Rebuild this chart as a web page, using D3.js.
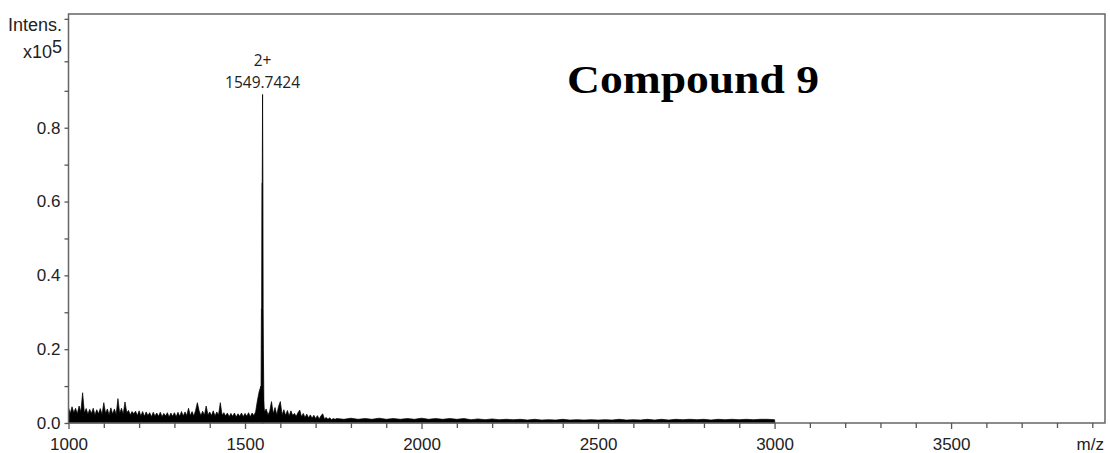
<!DOCTYPE html>
<html>
<head>
<meta charset="utf-8">
<script src="https://cdn.jsdelivr.net/npm/d3@7"></script>
<style>
	body { margin: 0; background: #fff; }
</style>
</head>
<body>
<div id="chart-area"></div>
<script>

// noise level, every 5 m/z from 1000 to 1755
var noiseStart = 1000, noiseStep = 5;
var noiseVals = [
	0.042,0.026,0.044,0.028,0.040,0.025,0.046,0.030,0.082,0.027,
	0.039,0.024,0.037,0.026,0.040,0.022,0.036,0.025,0.039,0.023,
	0.055,0.026,0.038,0.022,0.041,0.024,0.038,0.023,0.066,0.026,
	0.040,0.024,0.057,0.028,0.034,0.022,0.031,0.025,0.032,0.020,
	0.033,0.019,0.031,0.018,0.030,0.020,0.028,0.017,0.029,0.019,
	0.027,0.018,0.029,0.017,0.026,0.019,0.028,0.016,0.027,0.018,
	0.028,0.017,0.029,0.018,0.031,0.019,0.030,0.020,0.040,0.020,
	0.031,0.019,0.034,0.055,0.033,0.020,0.032,0.021,0.046,0.022,
	0.030,0.020,0.033,0.019,0.030,0.022,0.055,0.021,0.028,0.019,
	0.027,0.017,0.026,0.018,0.027,0.016,0.025,0.018,0.027,0.017,
	0.026,0.018,0.028,0.017,0.027,0.020,0.030,0.060,0.085,0.100,
	0.090,0.030,0.038,0.022,0.032,0.058,0.025,0.042,0.022,0.045,
	0.058,0.022,0.036,0.020,0.034,0.019,0.033,0.021,0.026,0.018,
	0.028,0.035,0.017,0.026,0.015,0.024,0.014,0.022,0.013,0.021,
	0.012,0.020,0.011,0.019,0.025,0.011,0.015,0.010,0.014,0.009,
	0.012,0.010
];

// low tail, every 20 m/z from 1760 to 3000
var tailStart = 1760, tailStep = 20;
var tailVals = [
	0.012,0.010,0.013,0.010,0.012,0.010,0.013,0.010,0.012,0.010,
	0.012,0.010,0.013,0.010,0.012,0.010,0.012,0.010,0.012,0.009,
	0.011,0.009,0.011,0.009,0.010,0.009,0.010,0.008,0.010,0.008,
	0.009,0.008,0.010,0.008,0.009,0.008,0.009,0.008,0.009,0.008,
	0.010,0.008,0.009,0.008,0.010,0.008,0.010,0.008,0.010,0.009,
	0.010,0.009,0.010,0.008,0.010,0.009,0.010,0.009,0.010,0.009,
	0.010,0.010,0.009
];

// main 2+ isotope cluster
var peakMz  = [1545.5, 1546.5, 1547.2, 1548.0, 1548.8, 1549.74, 1550.6, 1551.3, 1552.0, 1553.0];
var peakInt = [0.10, 0.31, 0.31, 0.65, 0.65, 0.89, 0.65, 0.31, 0.20, 0.10];

var xMajor = [1000, 1500, 2000, 2500, 3000, 3500];
var xMinor = [1100, 1200, 1300, 1400, 1600, 1700, 1800, 1900, 2100, 2200, 2300, 2400,
	2600, 2700, 2800, 2900, 3100, 3200, 3300, 3400, 3600, 3700, 3800, 3900];
var yMajor = [0.0, 0.2, 0.4, 0.6, 0.8];
var yMinor = [0.1, 0.3, 0.5, 0.7, 0.9];

var W = 1110, H = 453;
var margin = {top: 14, right: 5, bottom: 30, left: 68};
var sans = "Liberation Sans, Arial, sans-serif";

var svg = d3.select("#chart-area").append("svg")
	.attr("width", W)
	.attr("height", H);

var x = d3.scaleLinear().domain([1000, 3936]).range([68.5, W - margin.right]);
var y = d3.scaleLinear().domain([0, 1.1]).range([423, 17]);

// build the spectrum points
var spec = [];
noiseVals.forEach(function(v, i) { spec.push([noiseStart + i * noiseStep, v]); });
tailVals.forEach(function(v, i) { spec.push([tailStart + i * tailStep, v]); });
spec.push([3001, 0]);

var area = d3.area()
	.x(d => x(d[0]))
	.y0(y(0))
	.y1(d => y(d[1]));

svg.append("path")
	.datum(spec)
	.attr("d", area)
	.attr("fill", "#000")
	.attr("stroke", "#000")
	.attr("stroke-width", 0.7);

var peak = peakMz.map((m, i) => [m, peakInt[i]]);
peak.unshift([1545, 0]);
peak.push([1553.5, 0]);

svg.append("path")
	.datum(peak)
	.attr("d", area)
	.attr("fill", "#000")
	.attr("stroke", "#000")
	.attr("stroke-width", 0.8);

// frame
svg.append("path")
	.attr("d", "M" + x(1000) + "," + y(0) + "V" + margin.top + "H" + (W - margin.right) + "V" + y(0) + "Z")
	.attr("fill", "none")
	.attr("stroke", "#666")
	.attr("stroke-width", 1.5);

// x axis
var xAxis = d3.axisBottom(x).tickValues(xMajor).tickSize(6).tickPadding(9).tickFormat(d3.format("d"));
var xg = svg.append("g").attr("transform", "translate(0," + y(0) + ")").call(xAxis);
var xm = svg.append("g").attr("transform", "translate(0," + y(0) + ")")
	.call(d3.axisBottom(x).tickValues(xMinor).tickSize(5).tickFormat(""));

// y axis
var yAxis = d3.axisLeft(y).tickValues(yMajor).tickSize(4).tickPadding(4).tickFormat(d3.format(".1f"));
var yg = svg.append("g").attr("transform", "translate(" + x(1000) + ",0)").call(yAxis);
var ym = svg.append("g").attr("transform", "translate(" + x(1000) + ",0)")
	.call(d3.axisLeft(y).tickValues(yMinor.concat([0.98, 1.095])).tickSize(4).tickFormat(""));

[xg, xm, yg, ym].forEach(function(g) {
	g.select(".domain").remove();
	g.selectAll("line").attr("stroke", "#555").attr("stroke-width", 1.3);
	g.selectAll("text").style("font-family", sans)
		.style("font-size", "17px").attr("fill", "#222");
});

// axis labels
svg.append("text")
	.attr("x", 62).attr("y", 31)
	.attr("text-anchor", "end")
	.style("font-family", sans).style("font-size", "18px")
	.attr("fill", "#222")
	.text("Intens.");

var xl = svg.append("text")
	.attr("x", 62).attr("y", 58)
	.attr("text-anchor", "end")
	.style("font-family", sans).style("font-size", "18px")
	.attr("fill", "#222");
xl.append("tspan").text("x10");
xl.append("tspan").attr("dy", -5).text("5");

svg.append("text")
	.attr("x", 1104).attr("y", 450)
	.attr("text-anchor", "end")
	.style("font-family", sans).style("font-size", "17px")
	.attr("fill", "#222")
	.text("m/z");

// peak annotation
svg.append("text")
	.attr("x", x(1549.74)).attr("y", 66)
	.attr("text-anchor", "middle")
	.style("font-family", "Open Sans, sans-serif").style("font-size", "15.5px")
	.attr("fill", "#222")
	.text("2+");

svg.append("text")
	.attr("x", x(1549.74)).attr("y", 88)
	.attr("text-anchor", "middle")
	.style("font-family", "Open Sans, sans-serif").style("font-size", "15.5px")
	.attr("fill", "#222")
	.text("1549.7424");

// title
svg.append("text")
	.attr("x", 567).attr("y", 93)
	.style("font-family", "Liberation Serif, Times New Roman, serif")
	.style("font-weight", "bold")
	.style("font-size", "40px")
	.attr("textLength", 252)
	.attr("lengthAdjust", "spacingAndGlyphs")
	.attr("fill", "#000")
	.text("Compound 9");

</script>
</body>
</html>
